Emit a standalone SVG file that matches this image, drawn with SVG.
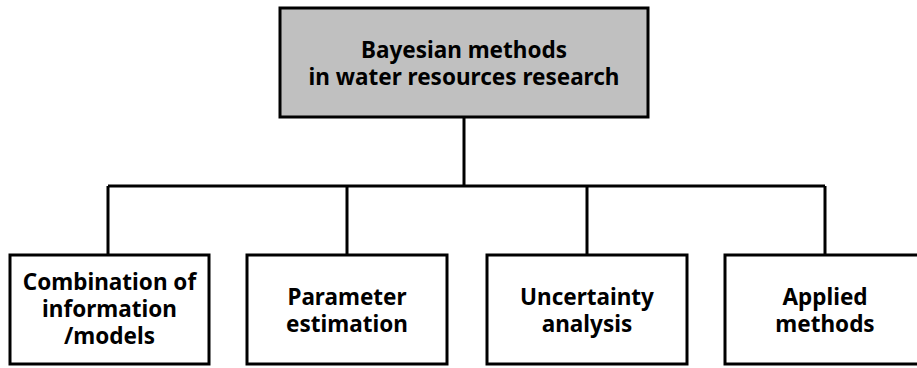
<svg xmlns="http://www.w3.org/2000/svg" width="917" height="368" viewBox="0 0 917 368">
<style>
.box{fill:#fff;stroke:#000;stroke-width:3}
.root{fill:#c0c0c0;stroke:#000;stroke-width:3}
.t{font-family:"Noto Sans","Open Sans",sans-serif;font-weight:bold;font-size:22.5px;text-anchor:middle;fill:#000}
.c{fill:none;stroke:#000;stroke-width:3}
</style>
<rect width="917" height="368" fill="#fff"/>
<g id="connectors">
<path class="c" d="M464 117V186M108 186H825M108 186V255M347 186V255M587 186V255M825 186V255"/>
</g>
<g id="root">
<rect class="root" x="280" y="8" width="368" height="109"/>
<text class="t" x="464" y="58">Bayesian methods</text>
<text class="t" x="464" y="85">in water resources research</text>
</g>
<g id="n1">
<rect class="box" x="10" y="255" width="199" height="109"/>
<text class="t" x="109.5" y="290">Combination of</text>
<text class="t" x="109.5" y="317">information</text>
<text class="t" x="109.5" y="344">/models</text>
</g>
<g id="n2">
<rect class="box" x="247" y="255" width="200" height="109"/>
<text class="t" x="347" y="305">Parameter</text>
<text class="t" x="347" y="332">estimation</text>
</g>
<g id="n3">
<rect class="box" x="487" y="255" width="200" height="109"/>
<text class="t" x="587" y="305">Uncertainty</text>
<text class="t" x="587" y="332">analysis</text>
</g>
<g id="n4">
<rect class="box" x="725" y="255" width="200" height="109"/>
<text class="t" x="825" y="305">Applied</text>
<text class="t" x="825" y="332">methods</text>
</g>
</svg>
